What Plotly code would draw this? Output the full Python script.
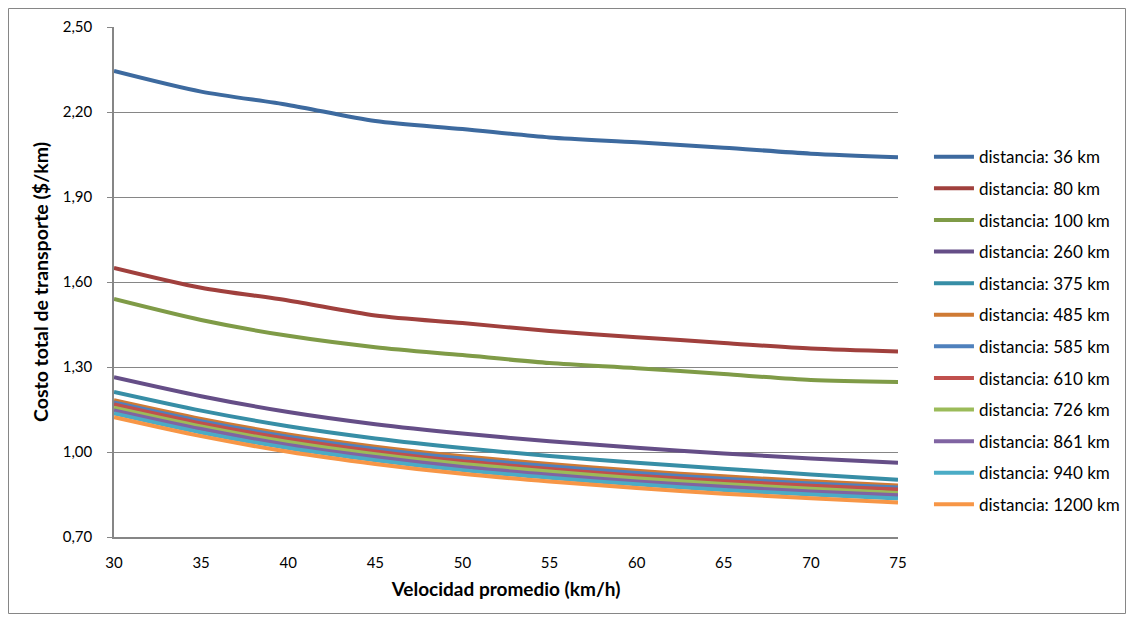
import plotly.graph_objects as go

velocidad = [30, 35, 40, 45, 50, 55, 60, 65, 70, 75]

series_names = [
    "distancia: 36 km", "distancia: 80 km", "distancia: 100 km", "distancia: 260 km",
    "distancia: 375 km", "distancia: 485 km", "distancia: 585 km", "distancia: 610 km",
    "distancia: 726 km", "distancia: 861 km", "distancia: 940 km", "distancia: 1200 km",
]

d36 = [2.345, 2.272, 2.225, 2.168, 2.140, 2.110, 2.093, 2.074, 2.053, 2.040]
d80 = [1.650, 1.580, 1.535, 1.482, 1.455, 1.427, 1.405, 1.385, 1.365, 1.355]
d100 = [1.540, 1.466, 1.410, 1.370, 1.342, 1.314, 1.296, 1.275, 1.254, 1.247]
d260 = [1.264, 1.197, 1.141, 1.098, 1.065, 1.038, 1.015, 0.995, 0.977, 0.962]
d375 = [1.212, 1.146, 1.091, 1.048, 1.014, 0.986, 0.962, 0.941, 0.921, 0.902]
d485 = [1.183, 1.117, 1.062, 1.019, 0.985, 0.958, 0.934, 0.914, 0.897, 0.882]
d585 = [1.175, 1.109, 1.054, 1.011, 0.977, 0.950, 0.926, 0.906, 0.889, 0.875]
d610 = [1.168, 1.101, 1.046, 1.002, 0.967, 0.940, 0.916, 0.897, 0.881, 0.868]
d726 = [1.156, 1.090, 1.035, 0.992, 0.958, 0.931, 0.907, 0.887, 0.870, 0.855]
d861 = [1.147, 1.081, 1.025, 0.982, 0.947, 0.920, 0.896, 0.877, 0.861, 0.847]
d940 = [1.136, 1.069, 1.014, 0.971, 0.936, 0.909, 0.886, 0.866, 0.850, 0.836]
d1200 = [1.123, 1.056, 1.001, 0.958, 0.923, 0.896, 0.873, 0.853, 0.837, 0.822]

series_values = [d36, d80, d100, d260, d375, d485, d585, d610, d726, d861, d940, d1200]

colors = [
    "#3D6A9F", "#A0403D", "#7F9B47", "#654E87", "#378EA6", "#CF7A34",
    "#4F81BD", "#C0504D", "#9BBB59", "#8064A2", "#4BACC6", "#F79646",
]

y_ticks = [0.70, 1.00, 1.30, 1.60, 1.90, 2.20, 2.50]
x_ticks = [30, 35, 40, 45, 50, 55, 60, 65, 70, 75]

FONT = "Lato, 'Open Sans', 'Liberation Sans', sans-serif"

# the page body has an 8px default margin; figure is sized/placed to compensate
W, H = 1118, 606
L, T = 106, 19
PW, PH = 784, 510

fig = go.Figure()
for i, (name, vals) in enumerate(zip(series_names, series_values)):
    fig.add_trace(go.Scatter(
        x=velocidad, y=vals, mode="lines", name=name,
        line=dict(color=colors[i], width=4, shape="spline", smoothing=0.8),
        legendgroup=f"g{i}",
    ))

fig.update_layout(
    width=W, height=H,
    margin=dict(l=L, r=W - L - PW, t=T, b=H - T - PH, autoexpand=False),
    paper_bgcolor="white", plot_bgcolor="white",
    separators=",.",
    font=dict(family=FONT, size=15, color="#000000"),
    showlegend=True,
    legend=dict(
        x=1.0395, xanchor="left", y=0.78, yanchor="top",
        font=dict(family=FONT, size=17, color="#000000"),
        tracegroupgap=6.5, itemwidth=40, bgcolor="rgba(0,0,0,0)",
    ),
    xaxis=dict(
        range=[30, 75], tickvals=x_ticks, ticktext=[str(v) for v in x_ticks],
        showgrid=False, zeroline=False,
        showline=True, linecolor="#868686", linewidth=1.5,
        ticks="", ticklabelstandoff=11,
        title=dict(text="<b>Velocidad promedio (km/h)</b>", font=dict(family=FONT, size=19), standoff=13),
        tickfont=dict(family=FONT, size=15),
    ),
    yaxis=dict(
        range=[0.70, 2.50], tickvals=y_ticks, tickformat=".2f",
        showgrid=True, gridcolor="#868686", gridwidth=1,
        zeroline=False, showline=True, linecolor="#868686", linewidth=1.5,
        ticks="outside", ticklen=5, tickcolor="#868686",
        ticklabelstandoff=12,
        title=dict(text="<b>Costo total de transporte ($/km)</b>", font=dict(family=FONT, size=19.5), standoff=9),
        tickfont=dict(family=FONT, size=15),
    ),
)

# outer chart border
fig.add_shape(type="rect", xref="paper", yref="paper",
              x0=(0.5 - L) / PW, x1=(W - 0.5 - L) / PW,
              y0=(T + PH - (H - 0.5)) / PH, y1=(T + PH - 0.5) / PH,
              line=dict(color="#868686", width=1), fillcolor="rgba(0,0,0,0)", layer="below")

fig.write_html("out.html")
